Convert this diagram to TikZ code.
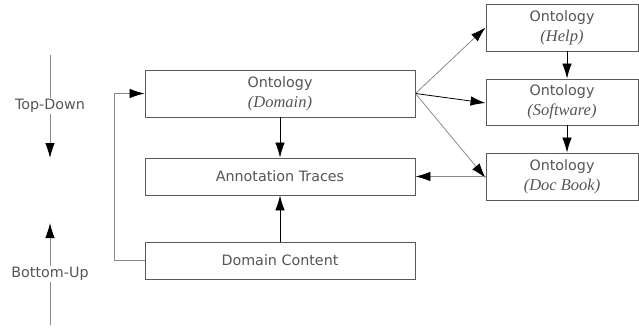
\documentclass[tikz,border=0pt]{standalone}
\usepackage{fontspec}
\setmainfont{DejaVu Sans}
\newfontfamily\serifit{Liberation Serif}
\usetikzlibrary{arrows.meta}
\definecolor{txt}{HTML}{555555}
\definecolor{ln}{HTML}{8A8A8A}
\tikzset{
  box/.style={draw=black!65, line width=0.9pt, fill=white, text=txt, align=center,
    inner sep=0pt, font=\fontsize{14.3}{20}\selectfont},
  conn/.style={draw=ln, line width=0.8pt, -{Latex[length=15pt,width=9.5pt,color=black]}},
  dconn/.style={draw=black, line width=0.8pt, -{Latex[length=15pt,width=9.5pt,color=black]}},
  side/.style={text=txt, fill=white, inner sep=1.5pt, font=\fontsize{14.3}{16}\selectfont}
}
\newcommand{\ita}[1]{{\serifit\itshape\fontsize{16.5}{20}\selectfont #1}}
\begin{document}
\begin{tikzpicture}[x=1pt,y=-1pt]
\useasboundingbox (0,0) rectangle (639,327);
% main boxes
\node[box, minimum width=270pt, minimum height=47pt] (dom) at (280,93.5) {Ontology\\\ita{(Domain)}};
\node[box, minimum width=270pt, minimum height=37pt] (ann) at (280,176.5) {Annotation Traces};
\node[box, minimum width=270pt, minimum height=37pt] (con) at (280,260.5) {Domain Content};
% right boxes
\node[box, minimum width=152pt, minimum height=47pt] (help) at (562,27.5) {Ontology\\\ita{(Help)}};
\node[box, minimum width=152pt, minimum height=46pt] (soft) at (562,102) {Ontology\\\ita{(Software)}};
\node[box, minimum width=152pt, minimum height=47pt] (doc) at (562,176.5) {Ontology\\\ita{(Doc Book)}};
% connectors
\draw[dconn] (dom.south) -- (ann.north);
\draw[dconn] (con.north) -- (ann.south);
\draw[conn] (dom.east) -- (help.west);
\draw[dconn] (dom.east) -- ([yshift=-1pt]soft.west);
\draw[conn] (dom.east) -- ([yshift=-1.5pt]doc.west);
\draw[conn] (doc.west) -- (ann.east);
\draw[dconn] ([xshift=5pt]help.south) -- ([xshift=5pt]soft.north);
\draw[dconn] ([xshift=5pt]soft.south) -- ([xshift=5pt]doc.north);
\coordinate (lp) at (114,0);
\draw[conn] (con.west) -| (lp |- con.west) |- (dom.west);
% side arrows
\coordinate (td1) at (50,55);
\coordinate (td2) at (50,158);
\coordinate (bu1) at (50,325);
\coordinate (bu2) at (50,223);
\draw[conn] (td1) -- (td2);
\draw[conn] (bu1) -- (bu2);
\node[side] (td) at (50,106) {Top-Down};
\node[side] (bu) at (50,274) {Bottom-Up};
\end{tikzpicture}
\end{document}
